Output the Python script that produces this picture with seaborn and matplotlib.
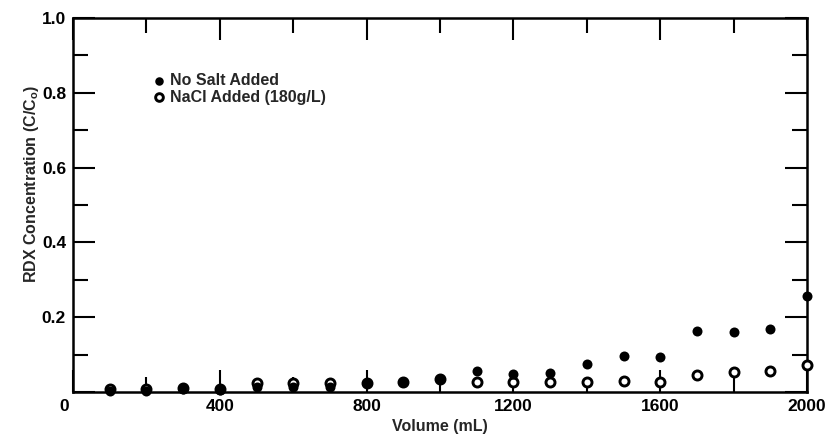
import matplotlib
matplotlib.use("Agg")
import matplotlib.pyplot as plt
import matplotlib.transforms as mtransforms
from matplotlib.ticker import MultipleLocator
import seaborn as sns

volume = [100, 200, 300, 400, 500, 600, 700, 800, 900, 1000,
          1100, 1200, 1300, 1400, 1500, 1600, 1700, 1800, 1900, 2000]
no_salt = [0.004, 0.004, 0.008, 0.005, 0.013, 0.013, 0.013, 0.024, 0.028, 0.035,
           0.055, 0.047, 0.051, 0.075, 0.096, 0.093, 0.162, 0.160, 0.168, 0.257]
nacl = [0.007, 0.008, 0.012, 0.008, 0.025, 0.025, 0.025, 0.023, 0.027, 0.034,
        0.028, 0.028, 0.028, 0.028, 0.030, 0.027, 0.046, 0.053, 0.057, 0.073]
labels = ["No Salt Added", "NaCl Added (180g/L)"]
x_ticks = [0, 400, 800, 1200, 1600, 2000]
y_ticks = [0, 0.2, 0.4, 0.6, 0.8, 1.0]
y_tick_labels = ["", "0.2", "0.4", "0.6", "0.8", "1.0"]

sns.set_style("ticks")
plt.rcParams["font.family"] = ["Liberation Sans", "DejaVu Sans"]
plt.rcParams["font.weight"] = "bold"
plt.rcParams["mathtext.fontset"] = "custom"
plt.rcParams["mathtext.rm"] = "Liberation Sans:bold"
plt.rcParams["mathtext.it"] = "Liberation Sans:bold"
plt.rcParams["mathtext.bf"] = "Liberation Sans:bold"

fig = plt.figure(figsize=(8.28, 4.36), dpi=100)
ax = fig.add_axes([73 / 828, 44 / 436, 734 / 828, 374 / 436])

sns.scatterplot(x=volume, y=nacl, ax=ax, marker="o", s=6.5 ** 2,
                color="white", edgecolor="black", linewidth=2.1,
                label=labels[1], zorder=3, clip_on=False)
sns.scatterplot(x=volume, y=no_salt, ax=ax, marker="o", s=7.2 ** 2,
                color="black", edgecolor="black", linewidth=0,
                label=labels[0], zorder=4, clip_on=False)

ax.set_xlim(0, 2000)
ax.set_ylim(0, 1.0)
ax.set_xticks(x_ticks)
ax.set_xticklabels([str(v) for v in x_ticks])
ax.set_yticks(y_ticks)
ax.set_yticklabels(y_tick_labels)
ax.xaxis.set_minor_locator(MultipleLocator(200))
ax.yaxis.set_minor_locator(MultipleLocator(0.1))

ax.tick_params(which="both", direction="in", top=True, right=True,
               width=1.5, colors="black", labelsize=12.5)
ax.tick_params(which="major", length=16, pad=5)
ax.tick_params(which="minor", length=11)
for lab in ax.get_xticklabels() + ax.get_yticklabels():
    lab.set_fontweight("bold")
for side in ["left", "right", "top", "bottom"]:
    ax.spines[side].set_linewidth(1.8)
    ax.spines[side].set_color("black")

# the shared "0" sits left of the corner
zero = ax.get_xticklabels()[0]
zero.set_transform(zero.get_transform() +
                   mtransforms.ScaledTranslation(-9 / 100, 0, fig.dpi_scale_trans))

ax.set_xlabel("Volume (mL)", fontsize=11.5, fontweight="bold")
ax.set_ylabel("RDX Concentration (C/C$_{\\mathrm{o}}$)", fontsize=11.5, fontweight="bold")
ax.xaxis.set_label_coords(0.5, -0.073)
ax.yaxis.set_label_coords(-0.044, 0.555)

handles, hl = ax.get_legend_handles_labels()
leg = ax.legend([handles[1], handles[0]], [hl[1], hl[0]], loc="upper left",
                bbox_to_anchor=(0.1, 0.875), frameon=False, fontsize=11.5,
                handlelength=0.6, handletextpad=0.4, labelspacing=0.12,
                borderpad=0, markerscale=0.85)
for t in leg.get_texts():
    t.set_fontweight("bold")

fig.savefig("out.png", dpi=100)
